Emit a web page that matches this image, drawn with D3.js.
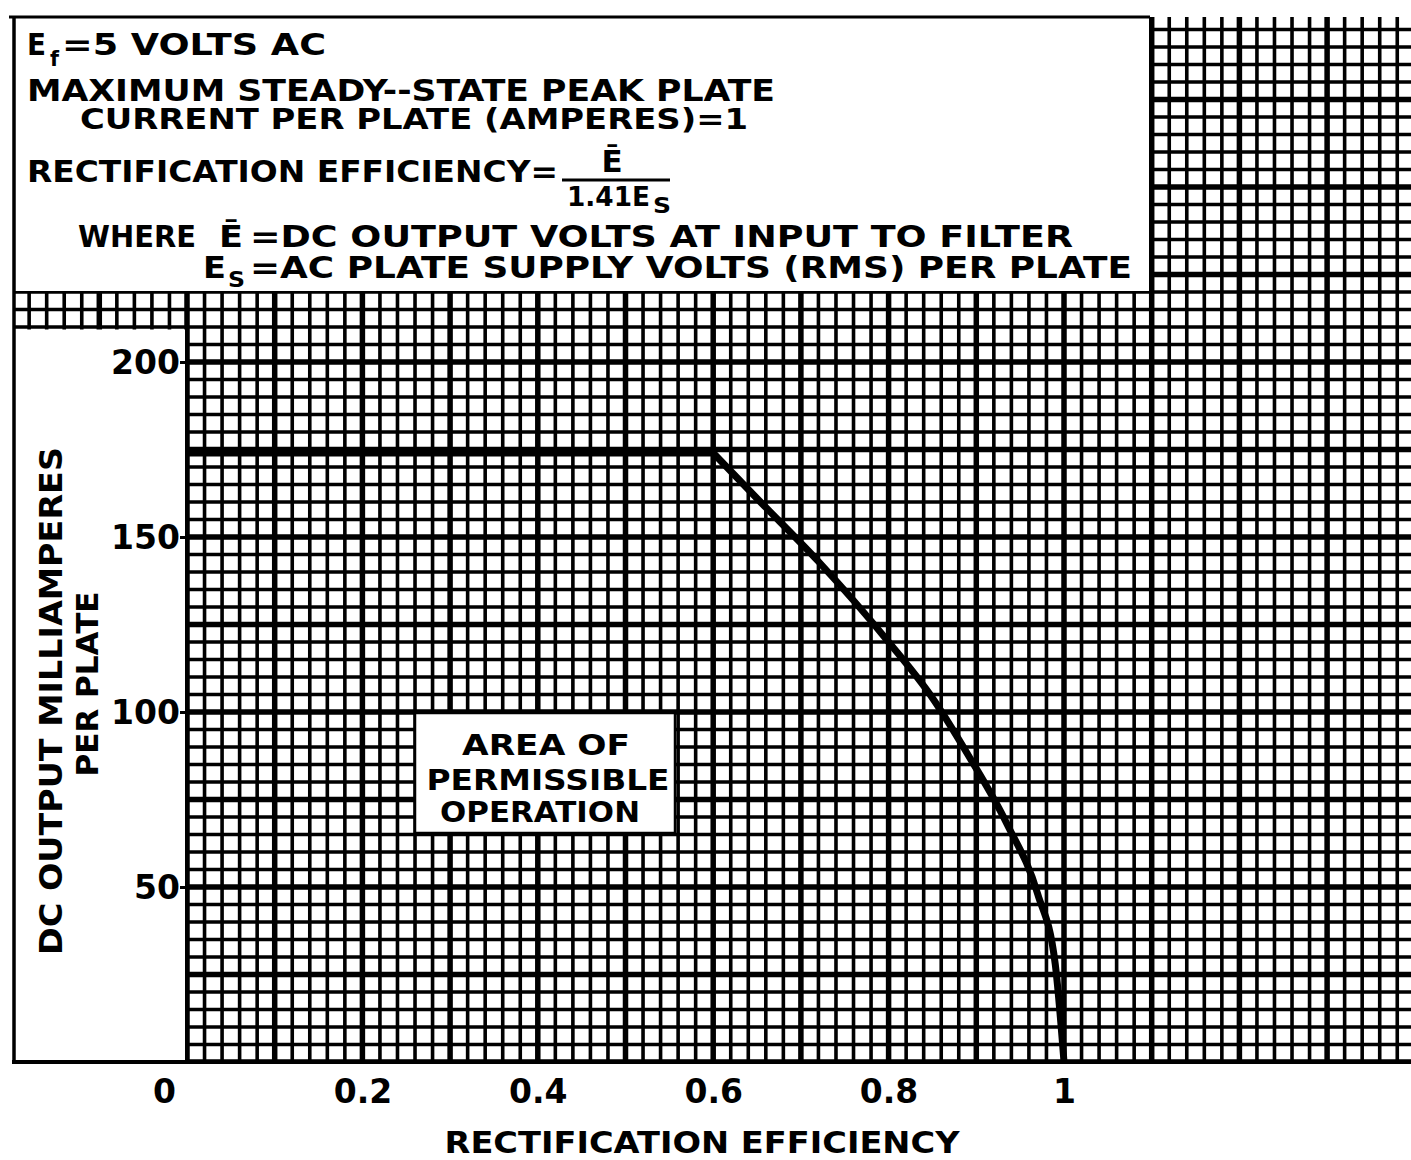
<!DOCTYPE html>
<html><head><meta charset="utf-8">
<script src="https://cdn.jsdelivr.net/npm/d3@7"></script>
<style>
html,body{margin:0;padding:0;background:#fff;}
svg{display:block;}
text{font-family:"DejaVu Sans",sans-serif;font-weight:bold;fill:#000;}
</style></head><body>
<svg id="chart" width="1411" height="1160"></svg>
<script>
// ---- data ----
const efficiency = [0, 0.6, 0.65, 0.72, 0.8, 0.85, 0.89, 0.935, 0.97, 0.99, 1.0];
const plateMilliamperes = [174, 174, 161, 143, 120, 104, 88, 68, 48, 28, 0];
const xTickValues = [0, 0.2, 0.4, 0.6, 0.8, 1];
const xTickLabels = ["0", "0.2", "0.4", "0.6", "0.8", "1"];
const yTickValues = [50, 100, 150, 200];
const yTickLabels = ["50", "100", "150", "200"];
const xTitle = "RECTIFICATION EFFICIENCY";
const yTitle = ["DC OUTPUT MILLIAMPERES", "PER PLATE"];
const areaLabel = ["AREA OF", "PERMISSIBLE", "OPERATION"];
const noteFilament = ["E", "f", "=5 VOLTS AC"];
const notePeak = ["MAXIMUM STEADY--STATE PEAK PLATE", "CURRENT PER PLATE (AMPERES)=1"];
const noteEfficiency = ["RECTIFICATION EFFICIENCY=", "Ē", "1.41E", "S"];
const noteWhere = ["WHERE", "Ē", "=DC OUTPUT VOLTS AT INPUT TO FILTER"];
const noteSupply = ["E", "S", "=AC PLATE SUPPLY VOLTS (RMS) PER PLATE"];

// ---- scales ----
const svg = d3.select("#chart");
const x = d3.scaleLinear().domain([0, 1]).range([187, 1064]);
const y = d3.scaleLinear().domain([0, 200]).range([1062, 362]);

svg.append("rect").attr("width", 1411).attr("height", 1160).attr("fill", "#fff");

// ---- graph paper grid ----
svg.append("clipPath").attr("id", "gridClip")
  .append("rect").attr("x", 14).attr("y", 17).attr("width", 1397).attr("height", 1045);
const grid = svg.append("g").attr("clip-path", "url(#gridClip)");
const gx = d3.range(-10, 72).map(i => ({v: i * 0.02, heavy: i % 5 === 0}));
const gy = d3.range(0, 62).map(j => ({v: j * 5, heavy: j % 5 === 0}));
grid.selectAll("line.gx").data(gx).join("line")
  .attr("x1", d => x(d.v)).attr("x2", d => x(d.v))
  .attr("y1", 17).attr("y2", 1062)
  .attr("stroke", "#000").attr("stroke-width", d => d.heavy ? 5.5 : 3.6);
grid.selectAll("line.gy").data(gy).join("line")
  .attr("y1", d => y(d.v)).attr("y2", d => y(d.v))
  .attr("x1", 14).attr("x2", 1411)
  .attr("stroke", "#000").attr("stroke-width", d => d.heavy ? 5.5 : 3.6);

// ---- white panels ----
svg.append("rect").attr("x", 14).attr("y", 17).attr("width", 1135).attr("height", 274).attr("fill", "#fff");
svg.append("rect").attr("x", 15).attr("y", 329.5).attr("width", 170).attr("height", 732).attr("fill", "#fff");

// borders
svg.append("line").attr("x1", 9).attr("x2", 1150).attr("y1", 17).attr("y2", 17).attr("stroke", "#000").attr("stroke-width", 3);
svg.append("line").attr("x1", 14).attr("x2", 14).attr("y1", 16).attr("y2", 1064).attr("stroke", "#000").attr("stroke-width", 3.5);
svg.append("line").attr("x1", 12).attr("x2", 1411).attr("y1", 1062).attr("y2", 1062).attr("stroke", "#000").attr("stroke-width", 4);

// ---- curve: flat limit, then smooth fall-off ----
const pts = efficiency.map((e, i) => [e, plateMilliamperes[i]]);
const lineGen = d3.line().x(d => x(d[0])).y(d => y(d[1]));
svg.append("path").datum(pts.slice(0, 2))
  .attr("d", lineGen.curve(d3.curveLinear))
  .attr("fill", "none").attr("stroke", "#000").attr("stroke-width", 7);
svg.append("path").datum(pts.slice(1))
  .attr("d", lineGen.curve(d3.curveMonotoneX))
  .attr("fill", "none").attr("stroke", "#000").attr("stroke-width", 7)
  .attr("stroke-linejoin", "round");

// ---- area label ----
svg.append("rect").attr("x", 415).attr("y", 713).attr("width", 260).attr("height", 120)
  .attr("fill", "#fff").attr("stroke", "#000").attr("stroke-width", 2.5);
const areaPos = [[546, 755, 168], [548, 790, 243], [540, 822, 200]];
areaLabel.forEach((t, i) => {
  svg.append("text").attr("x", areaPos[i][0]).attr("y", areaPos[i][1])
    .attr("text-anchor", "middle").attr("font-size", 29)
    .attr("textLength", areaPos[i][2]).attr("lengthAdjust", "spacingAndGlyphs").text(t);
});

// ---- axes ----
const yAxis = svg.append("g").attr("transform", "translate(187,0)")
  .call(d3.axisLeft(y).tickValues(yTickValues).tickFormat((d, i) => yTickLabels[i]).tickSize(7).tickPadding(0));
yAxis.select(".domain").remove();
yAxis.selectAll("line").attr("stroke", "#000").attr("stroke-width", 3);
yAxis.selectAll("text").attr("font-size", 33).attr("font-family", "DejaVu Sans").attr("font-weight", "bold")
  .attr("dy", "0.36em").attr("fill", "#000");

const xAxis = svg.append("g").attr("transform", "translate(0,1062)")
  .call(d3.axisBottom(x).tickValues(xTickValues).tickFormat((d, i) => xTickLabels[i]).tickSize(0).tickPadding(18));
xAxis.select(".domain").remove();
xAxis.selectAll("text").attr("font-size", 33).attr("font-family", "DejaVu Sans").attr("font-weight", "bold").attr("fill", "#000")
  .attr("dx", (d, i) => i === 0 ? -23 : 0);

svg.append("text").attr("x", 702).attr("y", 1153).attr("text-anchor", "middle").attr("font-size", 31)
  .attr("textLength", 515).attr("lengthAdjust", "spacingAndGlyphs").text(xTitle);
svg.append("text").attr("transform", "translate(62,701) rotate(-90)").attr("text-anchor", "middle").attr("font-size", 32)
  .attr("textLength", 508).attr("lengthAdjust", "spacingAndGlyphs").text(yTitle[0]);
svg.append("text").attr("transform", "translate(98,684) rotate(-90)").attr("text-anchor", "middle").attr("font-size", 30)
  .attr("textLength", 185).attr("lengthAdjust", "spacingAndGlyphs").text(yTitle[1]);

// ---- notes ----
function txt(t, xx, yy, size, len, anchor) {
  const el = svg.append("text").attr("x", xx).attr("y", yy).attr("font-size", size).text(t);
  if (len) el.attr("textLength", len).attr("lengthAdjust", "spacingAndGlyphs");
  if (anchor) el.attr("text-anchor", anchor);
  return el;
}
txt(noteFilament[0], 27, 55, 31, 19);
txt(noteFilament[1], 50, 66, 22, 9);
txt(noteFilament[2], 62, 55, 31, 264);
txt(notePeak[0], 27, 101, 30, 748);
txt(notePeak[1], 80, 129, 29, 668);
txt(noteEfficiency[0], 27, 182, 31, 531);
svg.append("line").attr("x1", 562).attr("x2", 670).attr("y1", 180).attr("y2", 180).attr("stroke", "#000").attr("stroke-width", 3);
txt(noteEfficiency[1], 612, 172, 31, null, "middle");
txt(noteEfficiency[2], 567, 206, 27, 83);
txt(noteEfficiency[3], 653, 213, 21, 18);
txt(noteWhere[0], 78, 247, 30, 118);
txt(noteWhere[1], 219, 247, 30, 24);
txt(noteWhere[2], 250, 247, 30, 823);
txt(noteSupply[0], 203, 278, 30, 23);
txt(noteSupply[1], 228, 287, 21, 17);
txt(noteSupply[2], 250, 278, 30, 882);
</script>
</body></html>
